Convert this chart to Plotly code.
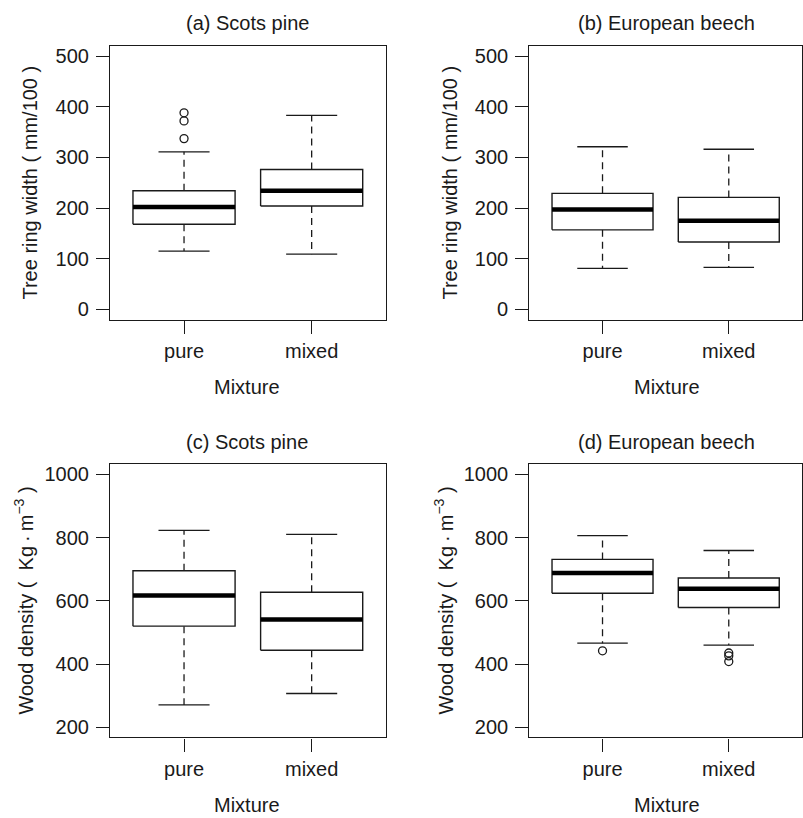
import plotly.graph_objects as go

W, H = 803, 818

categories = ["pure", "mixed"]

# (a) Scots pine - tree ring width
a_lower = [115, 109]
a_q1 = [168, 204]
a_median = [202, 234]
a_q3 = [234, 276]
a_upper = [311, 383]
a_outliers = [[337, 372, 388], []]

# (b) European beech - tree ring width
b_lower = [81, 83]
b_q1 = [157, 133]
b_median = [197, 175]
b_q3 = [229, 221]
b_upper = [321, 316]
b_outliers = [[], []]

# (c) Scots pine - wood density
c_lower = [271, 307]
c_q1 = [520, 444]
c_median = [617, 541]
c_q3 = [695, 627]
c_upper = [823, 810]
c_outliers = [[], []]

# (d) European beech - wood density
d_lower = [466, 460]
d_q1 = [624, 579]
d_median = [688, 638]
d_q3 = [731, 672]
d_upper = [806, 759]
d_outliers = [[442], [435, 426, 408]]

ring_ticks = [0, 100, 200, 300, 400, 500]
dens_ticks = [200, 400, 600, 800, 1000]

titles = ["(a) Scots pine", "(b) European beech", "(c) Scots pine", "(d) European beech"]
ring_title = "Tree ring width ( mm/100 )"
dens_title = "Wood density (  Kg\u2009\u00b7\u2009m<sup>\u22123</sup> )"
x_title = "Mixture"

INK = "#1a1a1a"
FONT = "Liberation Sans, Arial, sans-serif"
FS = 20

panels = [
    (a_lower, a_q1, a_median, a_q3, a_upper, a_outliers),
    (b_lower, b_q1, b_median, b_q3, b_upper, b_outliers),
    (c_lower, c_q1, c_median, c_q3, c_upper, c_outliers),
    (d_lower, d_q1, d_median, d_q3, d_upper, d_outliers),
]

def px_x(p):
    return p / W

def px_y(p):
    return 1 - p / H

x_domains = [[px_x(110), px_x(385.7)], [px_x(529.3), px_x(802)]]
y_domains = [[px_y(319.3), px_y(45)], [px_y(738.3), px_y(464.3)]]

fig = go.Figure()

BW = 0.4   # half box width
CW = 0.2   # half cap width

for k, (lo, q1, med, q3, up, outs) in enumerate(panels):
    sfx = "" if k == 0 else str(k + 1)
    xr, yr = "x" + sfx, "y" + sfx
    for i, cat in enumerate(categories):
        xc = i + 1
        # whiskers (dashed)
        fig.add_trace(go.Scatter(
            x=[xc, xc, None, xc, xc], y=[q3[i], up[i], None, q1[i], lo[i]],
            mode="lines", line=dict(color=INK, width=1.3, dash="7px,5px"),
            xaxis=xr, yaxis=yr, showlegend=False, hoverinfo="skip"))
        # caps
        fig.add_trace(go.Scatter(
            x=[xc - CW, xc + CW, None, xc - CW, xc + CW],
            y=[up[i], up[i], None, lo[i], lo[i]],
            mode="lines", line=dict(color=INK, width=1.3),
            xaxis=xr, yaxis=yr, showlegend=False, hoverinfo="skip"))
        # box
        fig.add_trace(go.Scatter(
            x=[xc - BW, xc + BW, xc + BW, xc - BW, xc - BW],
            y=[q1[i], q1[i], q3[i], q3[i], q1[i]],
            mode="lines", fill="toself", fillcolor="white",
            line=dict(color=INK, width=1.4),
            xaxis=xr, yaxis=yr, showlegend=False, hoverinfo="skip"))
        # median
        fig.add_trace(go.Scatter(
            x=[xc - BW, xc + BW], y=[med[i], med[i]],
            mode="lines", line=dict(color="black", width=4.5),
            xaxis=xr, yaxis=yr, showlegend=False, hoverinfo="skip"))
        # outliers
        if outs[i]:
            fig.add_trace(go.Scatter(
                x=[xc] * len(outs[i]), y=outs[i], mode="markers",
                marker=dict(symbol="circle-open", size=8, color=INK, line=dict(width=1.3)),
                xaxis=xr, yaxis=yr, showlegend=False, hoverinfo="skip"))

layout = dict(
    width=W, height=H,
    margin=dict(l=0, r=0, t=0, b=0),
    paper_bgcolor="white", plot_bgcolor="white",
    font=dict(family=FONT, size=FS, color=INK),
    showlegend=False,
)

for k in range(4):
    sfx = "" if k == 0 else str(k + 1)
    row, col = k // 2, k % 2
    ticks = ring_ticks if row == 0 else dens_ticks
    yrange = [-20, 520] if row == 0 else [168, 1032]
    layout["xaxis" + sfx] = dict(
        domain=x_domains[col], anchor="y" + sfx, range=[0.42, 2.58],
        tickmode="array", tickvals=[1, 2], ticktext=categories,
        showline=True, mirror=True, linecolor=INK, linewidth=1.2,
        ticks="outside", ticklen=13, tickwidth=1.2, tickcolor=INK,
        showgrid=False, zeroline=False, fixedrange=True,
        tickfont=dict(size=FS, color=INK, family=FONT))
    layout["yaxis" + sfx] = dict(
        domain=y_domains[row], anchor="x" + sfx, range=yrange,
        tickmode="array", tickvals=ticks,
        showline=True, mirror=True, linecolor=INK, linewidth=1.2,
        ticks="outside", ticklen=13, tickwidth=1.2, tickcolor=INK,
        ticklabelstandoff=3,
        showgrid=False, zeroline=False, fixedrange=True,
        tickfont=dict(size=FS, color=INK, family=FONT))

fig.update_layout(**layout)

annots = []
title_pos = [(247, 21.7), (666.5, 21.7), (247, 441.7), (666.5, 441.7)]
for k, (cx, cy) in enumerate(title_pos):
    annots.append(dict(text=titles[k], x=px_x(cx), y=px_y(cy), xref="paper", yref="paper",
                       xanchor="center", yanchor="middle", showarrow=False,
                       font=dict(size=FS, color=INK, family=FONT)))
xt_pos = [(247, 386.7), (666.5, 386.7), (247, 806), (666.5, 806)]
for (cx, cy) in xt_pos:
    annots.append(dict(text=x_title, x=px_x(cx), y=px_y(cy), xref="paper", yref="paper",
                       xanchor="center", yanchor="middle", showarrow=False,
                       font=dict(size=FS, color=INK, family=FONT)))
yt_pos = [(30, 182, ring_title), (450, 182, ring_title), (24, 601, dens_title), (444, 601, dens_title)]
for (cx, cy, t) in yt_pos:
    annots.append(dict(text=t, x=px_x(cx), y=px_y(cy), xref="paper", yref="paper",
                       xanchor="center", yanchor="middle", showarrow=False, textangle=-90,
                       font=dict(size=FS, color=INK, family=FONT)))
fig.update_layout(annotations=annots)

fig.write_html("out.html", config={"displayModeBar": False},
               post_script="document.body.style.margin='0';document.body.style.overflow='hidden';")
